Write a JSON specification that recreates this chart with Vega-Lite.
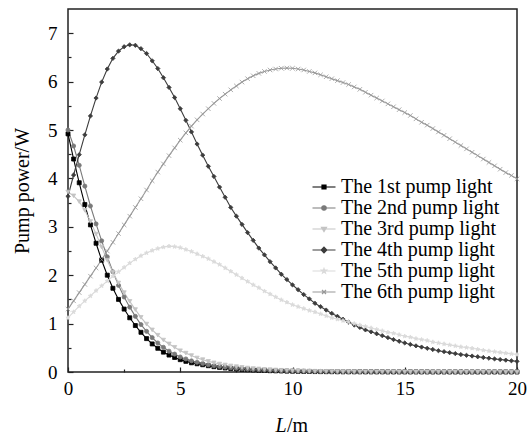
{
"$schema":"https://vega.github.io/schema/vega-lite/v6.json",
"width":449,"height":363,
"autosize":{"type":"none"},
"padding":{"left":68,"top":9,"right":13,"bottom":62},
"background":"white",
"config":{
"view":{"stroke":"#222","strokeWidth":1.5},
"font":"Liberation Serif",
"axis":{"labelFont":"Liberation Serif, Times New Roman, serif","titleFont":"Liberation Serif","labelColor":"#000","titleColor":"#000","titleFontWeight":"normal","labelFontWeight":"normal","grid":false,"domain":false,"tickColor":"#222","tickWidth":1.2,"labelFontSize":19,"titleFontSize":20,"labelOverlap":false}
},
"data":{"values":[
{"s":"1st","x":0,"y":4.92},{"s":"1st","x":0.25,"y":4.4},{"s":"1st","x":0.5,"y":3.91},{"s":"1st","x":0.75,"y":3.46},{"s":"1st","x":1,"y":3.04},{"s":"1st","x":1.25,"y":2.66},{"s":"1st","x":1.5,"y":2.31},{"s":"1st","x":1.75,"y":2.0},{"s":"1st","x":2,"y":1.73},{"s":"1st","x":2.25,"y":1.5},{"s":"1st","x":2.5,"y":1.3},{"s":"1st","x":2.75,"y":1.12},{"s":"1st","x":3,"y":0.96},{"s":"1st","x":3.25,"y":0.82},{"s":"1st","x":3.5,"y":0.69},{"s":"1st","x":3.75,"y":0.58},{"s":"1st","x":4,"y":0.49},{"s":"1st","x":4.25,"y":0.41},{"s":"1st","x":4.5,"y":0.35},{"s":"1st","x":4.75,"y":0.3},{"s":"1st","x":5,"y":0.255},{"s":"1st","x":5.25,"y":0.22},{"s":"1st","x":5.5,"y":0.19},{"s":"1st","x":5.75,"y":0.17},{"s":"1st","x":6,"y":0.15},{"s":"1st","x":6.25,"y":0.13},{"s":"1st","x":6.5,"y":0.11},{"s":"1st","x":6.75,"y":0.095},{"s":"1st","x":7,"y":0.083},{"s":"1st","x":7.25,"y":0.072},{"s":"1st","x":7.5,"y":0.063},{"s":"1st","x":7.75,"y":0.055},{"s":"1st","x":8,"y":0.048},{"s":"1st","x":8.25,"y":0.042},{"s":"1st","x":8.5,"y":0.036},{"s":"1st","x":8.75,"y":0.031},{"s":"1st","x":9,"y":0.027},{"s":"1st","x":9.25,"y":0.024},{"s":"1st","x":9.5,"y":0.021},{"s":"1st","x":9.75,"y":0.018},{"s":"1st","x":10,"y":0.016},{"s":"1st","x":10.25,"y":0.014},{"s":"1st","x":10.5,"y":0.012},{"s":"1st","x":10.75,"y":0.011},{"s":"1st","x":11,"y":0.009},{"s":"1st","x":11.25,"y":0.008},{"s":"1st","x":11.5,"y":0.007},{"s":"1st","x":11.75,"y":0.006},{"s":"1st","x":12,"y":0.005},{"s":"1st","x":12.25,"y":0.004},{"s":"1st","x":12.5,"y":0.004},{"s":"1st","x":12.75,"y":0.004},{"s":"1st","x":13,"y":0.004},{"s":"1st","x":13.25,"y":0.003},{"s":"1st","x":13.5,"y":0.003},{"s":"1st","x":13.75,"y":0.003},{"s":"1st","x":14,"y":0.003},{"s":"1st","x":14.25,"y":0.002},{"s":"1st","x":14.5,"y":0.002},{"s":"1st","x":14.75,"y":0.002},{"s":"1st","x":15,"y":0.002},{"s":"1st","x":15.25,"y":0.002},{"s":"1st","x":15.5,"y":0.002},{"s":"1st","x":15.75,"y":0.002},{"s":"1st","x":16,"y":0.002},{"s":"1st","x":16.25,"y":0.001},{"s":"1st","x":16.5,"y":0.001},{"s":"1st","x":16.75,"y":0.001},{"s":"1st","x":17,"y":0.001},{"s":"1st","x":17.25,"y":0.001},{"s":"1st","x":17.5,"y":0.001},{"s":"1st","x":17.75,"y":0.001},{"s":"1st","x":18,"y":0.001},{"s":"1st","x":18.25,"y":0.001},{"s":"1st","x":18.5,"y":0.001},{"s":"1st","x":18.75,"y":0.001},{"s":"1st","x":19,"y":0.001},{"s":"1st","x":19.25,"y":0.001},{"s":"1st","x":19.5,"y":0.001},{"s":"1st","x":19.75,"y":0.001},{"s":"1st","x":20,"y":0.001},
{"s":"2nd","x":0,"y":5.0},{"s":"2nd","x":0.25,"y":4.67},{"s":"2nd","x":0.5,"y":4.27},{"s":"2nd","x":0.75,"y":3.84},{"s":"2nd","x":1,"y":3.43},{"s":"2nd","x":1.25,"y":3.06},{"s":"2nd","x":1.5,"y":2.71},{"s":"2nd","x":1.75,"y":2.38},{"s":"2nd","x":2,"y":2.07},{"s":"2nd","x":2.25,"y":1.79},{"s":"2nd","x":2.5,"y":1.55},{"s":"2nd","x":2.75,"y":1.34},{"s":"2nd","x":3,"y":1.15},{"s":"2nd","x":3.25,"y":0.98},{"s":"2nd","x":3.5,"y":0.84},{"s":"2nd","x":3.75,"y":0.71},{"s":"2nd","x":4,"y":0.6},{"s":"2nd","x":4.25,"y":0.51},{"s":"2nd","x":4.5,"y":0.43},{"s":"2nd","x":4.75,"y":0.37},{"s":"2nd","x":5,"y":0.31},{"s":"2nd","x":5.25,"y":0.27},{"s":"2nd","x":5.5,"y":0.23},{"s":"2nd","x":5.75,"y":0.2},{"s":"2nd","x":6,"y":0.175},{"s":"2nd","x":6.25,"y":0.15},{"s":"2nd","x":6.5,"y":0.13},{"s":"2nd","x":6.75,"y":0.115},{"s":"2nd","x":7,"y":0.1},{"s":"2nd","x":7.25,"y":0.088},{"s":"2nd","x":7.5,"y":0.077},{"s":"2nd","x":7.75,"y":0.067},{"s":"2nd","x":8,"y":0.058},{"s":"2nd","x":8.25,"y":0.051},{"s":"2nd","x":8.5,"y":0.045},{"s":"2nd","x":8.75,"y":0.039},{"s":"2nd","x":9,"y":0.034},{"s":"2nd","x":9.25,"y":0.03},{"s":"2nd","x":9.5,"y":0.026},{"s":"2nd","x":9.75,"y":0.023},{"s":"2nd","x":10,"y":0.02},{"s":"2nd","x":10.25,"y":0.018},{"s":"2nd","x":10.5,"y":0.016},{"s":"2nd","x":10.75,"y":0.014},{"s":"2nd","x":11,"y":0.012},{"s":"2nd","x":11.25,"y":0.011},{"s":"2nd","x":11.5,"y":0.01},{"s":"2nd","x":11.75,"y":0.009},{"s":"2nd","x":12,"y":0.008},{"s":"2nd","x":12.25,"y":0.007},{"s":"2nd","x":12.5,"y":0.006},{"s":"2nd","x":12.75,"y":0.006},{"s":"2nd","x":13,"y":0.005},{"s":"2nd","x":13.25,"y":0.004},{"s":"2nd","x":13.5,"y":0.004},{"s":"2nd","x":13.75,"y":0.004},{"s":"2nd","x":14,"y":0.004},{"s":"2nd","x":14.25,"y":0.003},{"s":"2nd","x":14.5,"y":0.003},{"s":"2nd","x":14.75,"y":0.003},{"s":"2nd","x":15,"y":0.003},{"s":"2nd","x":15.25,"y":0.002},{"s":"2nd","x":15.5,"y":0.002},{"s":"2nd","x":15.75,"y":0.002},{"s":"2nd","x":16,"y":0.002},{"s":"2nd","x":16.25,"y":0.002},{"s":"2nd","x":16.5,"y":0.002},{"s":"2nd","x":16.75,"y":0.002},{"s":"2nd","x":17,"y":0.002},{"s":"2nd","x":17.25,"y":0.001},{"s":"2nd","x":17.5,"y":0.001},{"s":"2nd","x":17.75,"y":0.001},{"s":"2nd","x":18,"y":0.001},{"s":"2nd","x":18.25,"y":0.001},{"s":"2nd","x":18.5,"y":0.001},{"s":"2nd","x":18.75,"y":0.001},{"s":"2nd","x":19,"y":0.001},{"s":"2nd","x":19.25,"y":0.001},{"s":"2nd","x":19.5,"y":0.001},{"s":"2nd","x":19.75,"y":0.001},{"s":"2nd","x":20,"y":0.001},
{"s":"3rd","x":0,"y":3.72},{"s":"3rd","x":0.25,"y":3.64},{"s":"3rd","x":0.5,"y":3.52},{"s":"3rd","x":0.75,"y":3.34},{"s":"3rd","x":1,"y":3.11},{"s":"3rd","x":1.25,"y":2.85},{"s":"3rd","x":1.5,"y":2.58},{"s":"3rd","x":1.75,"y":2.31},{"s":"3rd","x":2,"y":2.06},{"s":"3rd","x":2.25,"y":1.84},{"s":"3rd","x":2.5,"y":1.64},{"s":"3rd","x":2.75,"y":1.46},{"s":"3rd","x":3,"y":1.29},{"s":"3rd","x":3.25,"y":1.13},{"s":"3rd","x":3.5,"y":0.99},{"s":"3rd","x":3.75,"y":0.87},{"s":"3rd","x":4,"y":0.76},{"s":"3rd","x":4.25,"y":0.66},{"s":"3rd","x":4.5,"y":0.58},{"s":"3rd","x":4.75,"y":0.51},{"s":"3rd","x":5,"y":0.44},{"s":"3rd","x":5.25,"y":0.39},{"s":"3rd","x":5.5,"y":0.34},{"s":"3rd","x":5.75,"y":0.29},{"s":"3rd","x":6,"y":0.255},{"s":"3rd","x":6.25,"y":0.22},{"s":"3rd","x":6.5,"y":0.19},{"s":"3rd","x":6.75,"y":0.165},{"s":"3rd","x":7,"y":0.145},{"s":"3rd","x":7.25,"y":0.125},{"s":"3rd","x":7.5,"y":0.11},{"s":"3rd","x":7.75,"y":0.095},{"s":"3rd","x":8,"y":0.082},{"s":"3rd","x":8.25,"y":0.072},{"s":"3rd","x":8.5,"y":0.063},{"s":"3rd","x":8.75,"y":0.055},{"s":"3rd","x":9,"y":0.048},{"s":"3rd","x":9.25,"y":0.042},{"s":"3rd","x":9.5,"y":0.036},{"s":"3rd","x":9.75,"y":0.031},{"s":"3rd","x":10,"y":0.027},{"s":"3rd","x":10.25,"y":0.024},{"s":"3rd","x":10.5,"y":0.021},{"s":"3rd","x":10.75,"y":0.018},{"s":"3rd","x":11,"y":0.016},{"s":"3rd","x":11.25,"y":0.014},{"s":"3rd","x":11.5,"y":0.012},{"s":"3rd","x":11.75,"y":0.011},{"s":"3rd","x":12,"y":0.01},{"s":"3rd","x":12.25,"y":0.009},{"s":"3rd","x":12.5,"y":0.008},{"s":"3rd","x":12.75,"y":0.007},{"s":"3rd","x":13,"y":0.006},{"s":"3rd","x":13.25,"y":0.006},{"s":"3rd","x":13.5,"y":0.005},{"s":"3rd","x":13.75,"y":0.005},{"s":"3rd","x":14,"y":0.005},{"s":"3rd","x":14.25,"y":0.004},{"s":"3rd","x":14.5,"y":0.004},{"s":"3rd","x":14.75,"y":0.004},{"s":"3rd","x":15,"y":0.004},{"s":"3rd","x":15.25,"y":0.003},{"s":"3rd","x":15.5,"y":0.003},{"s":"3rd","x":15.75,"y":0.003},{"s":"3rd","x":16,"y":0.003},{"s":"3rd","x":16.25,"y":0.003},{"s":"3rd","x":16.5,"y":0.003},{"s":"3rd","x":16.75,"y":0.002},{"s":"3rd","x":17,"y":0.002},{"s":"3rd","x":17.25,"y":0.002},{"s":"3rd","x":17.5,"y":0.002},{"s":"3rd","x":17.75,"y":0.002},{"s":"3rd","x":18,"y":0.002},{"s":"3rd","x":18.25,"y":0.002},{"s":"3rd","x":18.5,"y":0.002},{"s":"3rd","x":18.75,"y":0.001},{"s":"3rd","x":19,"y":0.001},{"s":"3rd","x":19.25,"y":0.001},{"s":"3rd","x":19.5,"y":0.001},{"s":"3rd","x":19.75,"y":0.001},{"s":"3rd","x":20,"y":0.001},
{"s":"4th","x":0,"y":3.63},{"s":"4th","x":0.25,"y":4.07},{"s":"4th","x":0.5,"y":4.49},{"s":"4th","x":0.75,"y":4.9},{"s":"4th","x":1,"y":5.29},{"s":"4th","x":1.25,"y":5.66},{"s":"4th","x":1.5,"y":5.99},{"s":"4th","x":1.75,"y":6.26},{"s":"4th","x":2,"y":6.48},{"s":"4th","x":2.25,"y":6.63},{"s":"4th","x":2.5,"y":6.72},{"s":"4th","x":2.75,"y":6.76},{"s":"4th","x":3,"y":6.75},{"s":"4th","x":3.25,"y":6.68},{"s":"4th","x":3.5,"y":6.58},{"s":"4th","x":3.75,"y":6.43},{"s":"4th","x":4,"y":6.27},{"s":"4th","x":4.25,"y":6.08},{"s":"4th","x":4.5,"y":5.88},{"s":"4th","x":4.75,"y":5.67},{"s":"4th","x":5,"y":5.44},{"s":"4th","x":5.25,"y":5.2},{"s":"4th","x":5.5,"y":4.96},{"s":"4th","x":5.75,"y":4.71},{"s":"4th","x":6,"y":4.48},{"s":"4th","x":6.25,"y":4.25},{"s":"4th","x":6.5,"y":4.04},{"s":"4th","x":6.75,"y":3.82},{"s":"4th","x":7,"y":3.61},{"s":"4th","x":7.25,"y":3.4},{"s":"4th","x":7.5,"y":3.22},{"s":"4th","x":7.75,"y":3.05},{"s":"4th","x":8,"y":2.88},{"s":"4th","x":8.25,"y":2.72},{"s":"4th","x":8.5,"y":2.56},{"s":"4th","x":8.75,"y":2.42},{"s":"4th","x":9,"y":2.28},{"s":"4th","x":9.25,"y":2.15},{"s":"4th","x":9.5,"y":2.02},{"s":"4th","x":9.75,"y":1.91},{"s":"4th","x":10,"y":1.8},{"s":"4th","x":10.25,"y":1.7},{"s":"4th","x":10.5,"y":1.6},{"s":"4th","x":10.75,"y":1.51},{"s":"4th","x":11,"y":1.42},{"s":"4th","x":11.25,"y":1.35},{"s":"4th","x":11.5,"y":1.28},{"s":"4th","x":11.75,"y":1.21},{"s":"4th","x":12,"y":1.15},{"s":"4th","x":12.25,"y":1.09},{"s":"4th","x":12.5,"y":1.03},{"s":"4th","x":12.75,"y":0.97},{"s":"4th","x":13,"y":0.92},{"s":"4th","x":13.25,"y":0.87},{"s":"4th","x":13.5,"y":0.83},{"s":"4th","x":13.75,"y":0.79},{"s":"4th","x":14,"y":0.75},{"s":"4th","x":14.25,"y":0.71},{"s":"4th","x":14.5,"y":0.67},{"s":"4th","x":14.75,"y":0.635},{"s":"4th","x":15,"y":0.6},{"s":"4th","x":15.25,"y":0.57},{"s":"4th","x":15.5,"y":0.54},{"s":"4th","x":15.75,"y":0.515},{"s":"4th","x":16,"y":0.49},{"s":"4th","x":16.25,"y":0.465},{"s":"4th","x":16.5,"y":0.44},{"s":"4th","x":16.75,"y":0.42},{"s":"4th","x":17,"y":0.4},{"s":"4th","x":17.25,"y":0.38},{"s":"4th","x":17.5,"y":0.36},{"s":"4th","x":17.75,"y":0.345},{"s":"4th","x":18,"y":0.33},{"s":"4th","x":18.25,"y":0.315},{"s":"4th","x":18.5,"y":0.3},{"s":"4th","x":18.75,"y":0.285},{"s":"4th","x":19,"y":0.27},{"s":"4th","x":19.25,"y":0.257},{"s":"4th","x":19.5,"y":0.245},{"s":"4th","x":19.75,"y":0.232},{"s":"4th","x":20,"y":0.22},
{"s":"5th","x":0,"y":1.12},{"s":"5th","x":0.25,"y":1.24},{"s":"5th","x":0.5,"y":1.36},{"s":"5th","x":0.75,"y":1.47},{"s":"5th","x":1,"y":1.57},{"s":"5th","x":1.25,"y":1.68},{"s":"5th","x":1.5,"y":1.78},{"s":"5th","x":1.75,"y":1.88},{"s":"5th","x":2,"y":1.98},{"s":"5th","x":2.25,"y":2.07},{"s":"5th","x":2.5,"y":2.16},{"s":"5th","x":2.75,"y":2.25},{"s":"5th","x":3,"y":2.33},{"s":"5th","x":3.25,"y":2.4},{"s":"5th","x":3.5,"y":2.46},{"s":"5th","x":3.75,"y":2.51},{"s":"5th","x":4,"y":2.55},{"s":"5th","x":4.25,"y":2.58},{"s":"5th","x":4.5,"y":2.6},{"s":"5th","x":4.75,"y":2.59},{"s":"5th","x":5,"y":2.57},{"s":"5th","x":5.25,"y":2.53},{"s":"5th","x":5.5,"y":2.49},{"s":"5th","x":5.75,"y":2.44},{"s":"5th","x":6,"y":2.39},{"s":"5th","x":6.25,"y":2.34},{"s":"5th","x":6.5,"y":2.28},{"s":"5th","x":6.75,"y":2.22},{"s":"5th","x":7,"y":2.15},{"s":"5th","x":7.25,"y":2.08},{"s":"5th","x":7.5,"y":2.01},{"s":"5th","x":7.75,"y":1.94},{"s":"5th","x":8,"y":1.87},{"s":"5th","x":8.25,"y":1.8},{"s":"5th","x":8.5,"y":1.74},{"s":"5th","x":8.75,"y":1.67},{"s":"5th","x":9,"y":1.61},{"s":"5th","x":9.25,"y":1.55},{"s":"5th","x":9.5,"y":1.49},{"s":"5th","x":9.75,"y":1.44},{"s":"5th","x":10,"y":1.39},{"s":"5th","x":10.25,"y":1.35},{"s":"5th","x":10.5,"y":1.31},{"s":"5th","x":10.75,"y":1.27},{"s":"5th","x":11,"y":1.24},{"s":"5th","x":11.25,"y":1.2},{"s":"5th","x":11.5,"y":1.16},{"s":"5th","x":11.75,"y":1.12},{"s":"5th","x":12,"y":1.09},{"s":"5th","x":12.25,"y":1.06},{"s":"5th","x":12.5,"y":1.03},{"s":"5th","x":12.75,"y":1.0},{"s":"5th","x":13,"y":0.97},{"s":"5th","x":13.25,"y":0.94},{"s":"5th","x":13.5,"y":0.91},{"s":"5th","x":13.75,"y":0.88},{"s":"5th","x":14,"y":0.85},{"s":"5th","x":14.25,"y":0.82},{"s":"5th","x":14.5,"y":0.8},{"s":"5th","x":14.75,"y":0.77},{"s":"5th","x":15,"y":0.74},{"s":"5th","x":15.25,"y":0.72},{"s":"5th","x":15.5,"y":0.69},{"s":"5th","x":15.75,"y":0.67},{"s":"5th","x":16,"y":0.65},{"s":"5th","x":16.25,"y":0.62},{"s":"5th","x":16.5,"y":0.6},{"s":"5th","x":16.75,"y":0.58},{"s":"5th","x":17,"y":0.56},{"s":"5th","x":17.25,"y":0.54},{"s":"5th","x":17.5,"y":0.52},{"s":"5th","x":17.75,"y":0.505},{"s":"5th","x":18,"y":0.49},{"s":"5th","x":18.25,"y":0.47},{"s":"5th","x":18.5,"y":0.45},{"s":"5th","x":18.75,"y":0.435},{"s":"5th","x":19,"y":0.42},{"s":"5th","x":19.25,"y":0.405},{"s":"5th","x":19.5,"y":0.39},{"s":"5th","x":19.75,"y":0.375},{"s":"5th","x":20,"y":0.36},
{"s":"6th","x":0,"y":1.3},{"s":"6th","x":0.25,"y":1.47},{"s":"6th","x":0.5,"y":1.64},{"s":"6th","x":0.75,"y":1.81},{"s":"6th","x":1,"y":1.98},{"s":"6th","x":1.25,"y":2.15},{"s":"6th","x":1.5,"y":2.32},{"s":"6th","x":1.75,"y":2.5},{"s":"6th","x":2,"y":2.68},{"s":"6th","x":2.25,"y":2.86},{"s":"6th","x":2.5,"y":3.04},{"s":"6th","x":2.75,"y":3.22},{"s":"6th","x":3,"y":3.4},{"s":"6th","x":3.25,"y":3.58},{"s":"6th","x":3.5,"y":3.76},{"s":"6th","x":3.75,"y":3.95},{"s":"6th","x":4,"y":4.13},{"s":"6th","x":4.25,"y":4.3},{"s":"6th","x":4.5,"y":4.47},{"s":"6th","x":4.75,"y":4.63},{"s":"6th","x":5,"y":4.79},{"s":"6th","x":5.25,"y":4.94},{"s":"6th","x":5.5,"y":5.08},{"s":"6th","x":5.75,"y":5.21},{"s":"6th","x":6,"y":5.33},{"s":"6th","x":6.25,"y":5.44},{"s":"6th","x":6.5,"y":5.55},{"s":"6th","x":6.75,"y":5.65},{"s":"6th","x":7,"y":5.74},{"s":"6th","x":7.25,"y":5.83},{"s":"6th","x":7.5,"y":5.91},{"s":"6th","x":7.75,"y":5.99},{"s":"6th","x":8,"y":6.06},{"s":"6th","x":8.25,"y":6.12},{"s":"6th","x":8.5,"y":6.17},{"s":"6th","x":8.75,"y":6.21},{"s":"6th","x":9,"y":6.24},{"s":"6th","x":9.25,"y":6.26},{"s":"6th","x":9.5,"y":6.275},{"s":"6th","x":9.75,"y":6.28},{"s":"6th","x":10,"y":6.275},{"s":"6th","x":10.25,"y":6.26},{"s":"6th","x":10.5,"y":6.24},{"s":"6th","x":10.75,"y":6.21},{"s":"6th","x":11,"y":6.18},{"s":"6th","x":11.25,"y":6.14},{"s":"6th","x":11.5,"y":6.1},{"s":"6th","x":11.75,"y":6.06},{"s":"6th","x":12,"y":6.02},{"s":"6th","x":12.25,"y":5.98},{"s":"6th","x":12.5,"y":5.94},{"s":"6th","x":12.75,"y":5.89},{"s":"6th","x":13,"y":5.84},{"s":"6th","x":13.25,"y":5.78},{"s":"6th","x":13.5,"y":5.72},{"s":"6th","x":13.75,"y":5.66},{"s":"6th","x":14,"y":5.6},{"s":"6th","x":14.25,"y":5.54},{"s":"6th","x":14.5,"y":5.48},{"s":"6th","x":14.75,"y":5.42},{"s":"6th","x":15,"y":5.36},{"s":"6th","x":15.25,"y":5.3},{"s":"6th","x":15.5,"y":5.23},{"s":"6th","x":15.75,"y":5.16},{"s":"6th","x":16,"y":5.1},{"s":"6th","x":16.25,"y":5.03},{"s":"6th","x":16.5,"y":4.96},{"s":"6th","x":16.75,"y":4.89},{"s":"6th","x":17,"y":4.82},{"s":"6th","x":17.25,"y":4.75},{"s":"6th","x":17.5,"y":4.68},{"s":"6th","x":17.75,"y":4.61},{"s":"6th","x":18,"y":4.54},{"s":"6th","x":18.25,"y":4.47},{"s":"6th","x":18.5,"y":4.4},{"s":"6th","x":18.75,"y":4.33},{"s":"6th","x":19,"y":4.26},{"s":"6th","x":19.25,"y":4.19},{"s":"6th","x":19.5,"y":4.12},{"s":"6th","x":19.75,"y":4.06},{"s":"6th","x":20,"y":3.99}
]},
"layer":[
{"mark":{"type":"line","strokeWidth":1.1},
"encoding":{"x":{"field":"x","type":"quantitative","scale":{"domain":[0,20],"nice":false,"zero":false},
"axis":{"orient":"bottom","title":"L","titleFontStyle":"italic","titleX":207,"titleY":59,"titleAlign":"left","titleBaseline":"alphabetic","values":[0,5,10,15,20],"format":"d","labelFont":"Liberation Serif, Times New Roman, serif","labelFontSize":19,"tickSize":-5,"labelPadding":12,"labelFlush":false}},
"y":{"field":"y","type":"quantitative","scale":{"domain":[0,7.5],"nice":false,"zero":false},
"axis":{"orient":"left","title":"Pump power/W","values":[0,1,2,3,4,5,6,7],"format":"d","labelFont":"Liberation Serif, Times New Roman, serif","labelFontSize":19,"tickSize":-5,"labelPadding":16,"titlePadding":15}},
"color":{"field":"s","type":"nominal","scale":{"domain":["1st","2nd","3rd","4th","5th","6th"],"range":["#000000","#7a7a7a","#c4c4c4","#3c3c3c","#dadada","#989898"]},
"legend":{"title":null,"orient":"none","legendX":245,"legendY":167,"labelExpr":"'The ' + datum.label + ' pump light'","labelFont":"Liberation Serif","labelFontSize":20,"labelColor":"#000","labelOffset":6,"rowPadding":0,"padding":0,"symbolSize":400,
"encode":{"symbols":{
"update":{"shape":{"signal":"['M-1.15,0H1.15M-0.2,-0.2H0.2V0.2H-0.2Z','M-1.15,0H1.15M0.22,0A0.22,0.22,0,1,1,-0.22,0A0.22,0.22,0,1,1,0.22,0Z','M-1.15,0H1.15M-0.25,-0.17H0.25L0,0.25Z','M-1.15,0H1.15M0,-0.28L0.28,0L0,0.28L-0.28,0Z','M-1.15,0H1.15M0,-0.26L0.07,-0.08L0.25,-0.08L0.1,0.03L0.15,0.21L0,0.1L-0.15,0.21L-0.1,0.03L-0.25,-0.08L-0.07,-0.08Z','M-1.15,0H1.15M-0.2,-0.2L0.2,0.2M0.2,-0.2L-0.2,0.2'][indexof(['1st','2nd','3rd','4th','5th','6th'], datum.value)]"},"size":{"value":400},"strokeWidth":{"value":1.2},"fill":{"signal":"scale('color', datum.value)"},"stroke":{"signal":"scale('color', datum.value)"}},
"shape":{"value":{"expr":"['M-1.15,0H1.15M-0.2,-0.2H0.2V0.2H-0.2Z','M-1.15,0H1.15M0.22,0A0.22,0.22,0,1,1,-0.22,0A0.22,0.22,0,1,1,0.22,0Z','M-1.15,0H1.15M-0.25,-0.17H0.25L0,0.25Z','M-1.15,0H1.15M0,-0.28L0.28,0L0,0.28L-0.28,0Z','M-1.15,0H1.15M0,-0.26L0.07,-0.08L0.25,-0.08L0.1,0.03L0.15,0.21L0,0.1L-0.15,0.21L-0.1,0.03L-0.25,-0.08L-0.07,-0.08Z','M-1.15,0H1.15M-0.2,-0.2L0.2,0.2M0.2,-0.2L-0.2,0.2'][indexof(['1st','2nd','3rd','4th','5th','6th'], datum.value)]"}},
"size":{"value":400},
"strokeWidth":{"value":1.2},
"fill":{"value":{"expr":"scale('color', datum.value)"}},
"stroke":{"value":{"expr":"scale('color', datum.value)"}}}}}}}},
{"mark":{"type":"point","filled":true,"opacity":1,"strokeWidth":0.8},
"encoding":{"x":{"field":"x","type":"quantitative","scale":{"domain":[0,20],"nice":false,"zero":false},
"axis":{"orient":"bottom","title":"/m","titleX":218.5,"titleY":59,"titleAlign":"left","titleBaseline":"alphabetic","values":[2.5,7.5,12.5,17.5],"tickSize":-3,"labels":false,"domain":false}},
"y":{"field":"y","type":"quantitative","scale":{"domain":[0,7.5],"nice":false,"zero":false},
"axis":{"orient":"left","title":null,"values":[0.5,1.5,2.5,3.5,4.5,5.5,6.5],"tickSize":-3,"labels":false,"domain":false}},
"color":{"field":"s","type":"nominal","legend":null},
"shape":{"field":"s","type":"nominal","scale":{"domain":["1st","2nd","3rd","4th","5th","6th"],"range":["square","circle","triangle-down","diamond","M0,-1L0.27,-0.33L0.95,-0.31L0.42,0.13L0.59,0.81L0,0.42L-0.59,0.81L-0.42,0.13L-0.95,-0.31L-0.27,-0.33Z","M-1,-1L1,1M1,-1L-1,1"]},"legend":null},
"size":{"field":"s","type":"nominal","scale":{"domain":["1st","2nd","3rd","4th","5th","6th"],"range":[16,20,25,36,36,25]},"legend":null},
"stroke":{"field":"s","type":"nominal","scale":{"domain":["1st","2nd","3rd","4th","5th","6th"],"range":["#000000","#7a7a7a","#c4c4c4","#3c3c3c","#dadada","#989898"]},"legend":null}}}
],
"resolve":{"axis":{"x":"independent","y":"independent"},"legend":{"color":"independent","shape":"independent","size":"independent","stroke":"independent"}}
}
